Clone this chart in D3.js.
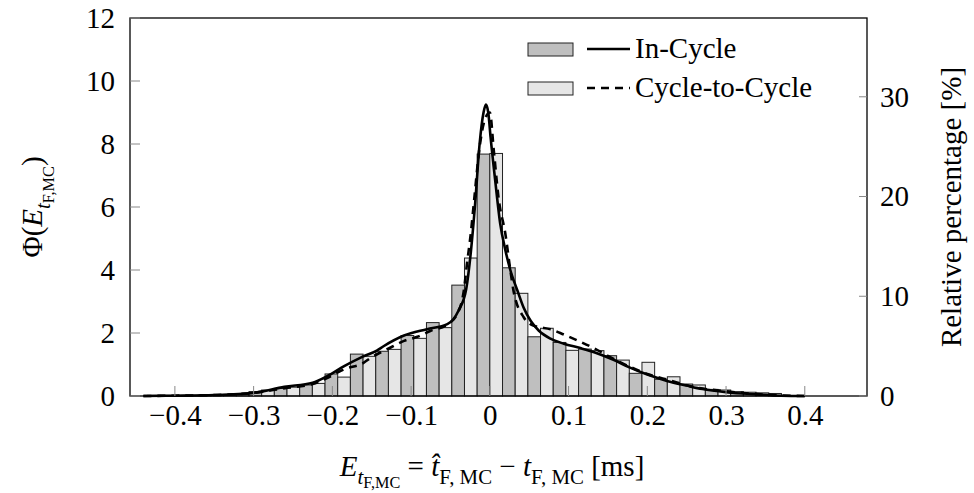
<!DOCTYPE html>
<html>
<head>
<meta charset="utf-8">
<script src="https://cdn.jsdelivr.net/npm/d3@7"></script>
<style>
  html, body { margin: 0; padding: 0; background: #fff; }
  svg { display: block; }
</style>
</head>
<body>
<svg id="chart" width="974" height="493"></svg>
<script>
// Histogram bins (centre of each bin pair, in ms); In-Cycle bar sits left of centre, Cycle-to-Cycle right
const binWidth = 0.0322;
const binCenters = [-0.4186, -0.3864, -0.3542, -0.322, -0.2898, -0.2576, -0.2254, -0.1932, -0.161, -0.1288,
  -0.0966, -0.0644, -0.0322, 0, 0.0322, 0.0644, 0.0966, 0.1288, 0.161, 0.1932, 0.2254, 0.2576, 0.2898,
  0.322, 0.3542];
const inCycleHist = [0.02, 0.02, 0.03, 0.05, 0.14, 0.24, 0.35, 0.70, 1.33, 1.42,
  1.92, 2.33, 3.52, 7.68, 4.07, 1.88, 1.70, 1.49, 1.28, 0.72, 0.53, 0.38, 0.21, 0.14, 0.10];
const cycleToCycleHist = [0.02, 0.02, 0.03, 0.06, 0.19, 0.28, 0.40, 0.60, 1.26, 1.48,
  1.83, 2.17, 4.38, 7.70, 3.26, 2.15, 1.45, 1.44, 1.14, 1.07, 0.61, 0.35, 0.19, 0.12, 0.08];

// Kernel density estimates
const kdeInCycleX = [-0.44, -0.40, -0.35, -0.30, -0.261, -0.225, -0.206, -0.185, -0.164, -0.143, -0.135,
  -0.109, -0.08, -0.054, -0.04, -0.03, -0.024, -0.019, -0.013, -0.008, -0.005, -0.002, 0.001, 0.007,
  0.013, 0.02, 0.026, 0.035, 0.043, 0.052, 0.062, 0.077, 0.094, 0.115, 0.136, 0.157, 0.178, 0.2,
  0.225, 0.25, 0.27, 0.3, 0.34, 0.37, 0.40];
const kdeInCycleY = [0.0, 0.01, 0.03, 0.10, 0.29, 0.42, 0.64, 0.95, 1.22, 1.45, 1.58,
  1.92, 2.12, 2.28, 2.7, 3.4, 4.6, 6.0, 8.0, 9.0, 9.25, 9.0, 8.2, 6.8,
  5.5, 4.6, 4.0, 3.35, 2.8, 2.38, 2.08, 1.82, 1.66, 1.52, 1.36, 1.15, 0.9, 0.68,
  0.48, 0.33, 0.22, 0.12, 0.05, 0.01, 0.0];
const kdeC2CX = [-0.44, -0.40, -0.35, -0.30, -0.26, -0.225, -0.206, -0.185, -0.16, -0.151, -0.139,
  -0.126, -0.109, -0.092, -0.075, -0.054, -0.042, -0.033, -0.029, -0.024, -0.02, -0.013, -0.006, 0.0,
  0.005, 0.011, 0.02, 0.026, 0.03, 0.043, 0.052, 0.06, 0.077, 0.094, 0.115, 0.132, 0.153, 0.175,
  0.2, 0.228, 0.26, 0.3, 0.34, 0.37, 0.40];
const kdeC2CY = [0.0, 0.01, 0.03, 0.10, 0.25, 0.38, 0.58, 0.85, 1.06, 1.22, 1.38,
  1.54, 1.75, 1.88, 2.07, 2.27, 2.58, 3.35, 4.2, 5.2, 6.2, 7.9, 8.8, 9.0,
  7.8, 6.3, 5.1, 4.0, 3.35, 2.5, 2.27, 2.2, 2.12, 1.95, 1.72, 1.52, 1.23, 0.96,
  0.7, 0.5, 0.28, 0.15, 0.06, 0.02, 0.0];

// Tick labels
const xTicks = [-0.4, -0.3, -0.2, -0.1, 0, 0.1, 0.2, 0.3, 0.4];
const yTicks = [0, 2, 4, 6, 8, 10, 12];
const yRightTicks = [0, 10, 20, 30];
const seriesNames = ["In-Cycle", "Cycle-to-Cycle"];

const serif = "'Liberation Serif', 'Tinos', 'Times New Roman', 'Noto Serif', 'DejaVu Serif', serif";

const svg = d3.select("#chart").style("font-family", serif);
const plot = { left: 130, right: 867, top: 18, bottom: 396 };

const x = d3.scaleLinear().domain([-0.457, 0.479]).range([plot.left, plot.right]);
const y = d3.scaleLinear().domain([0, 12]).range([plot.bottom, plot.top]);
const yRight = d3.scaleLinear().domain([0, 37.9]).range([plot.bottom, plot.top]);

const darkFill = "#bfbfbf";
const lightFill = "#e6e6e6";
const fontMain = 29;

// Bars
const bars = svg.append("g");
binCenters.forEach((c, i) => {
  bars.append("rect")
    .attr("x", x(c - binWidth / 2))
    .attr("width", x(c) - x(c - binWidth / 2))
    .attr("y", y(inCycleHist[i]))
    .attr("height", y(0) - y(inCycleHist[i]))
    .attr("fill", darkFill).attr("stroke", "#222").attr("stroke-width", 1);
  bars.append("rect")
    .attr("x", x(c))
    .attr("width", x(c + binWidth / 2) - x(c))
    .attr("y", y(cycleToCycleHist[i]))
    .attr("height", y(0) - y(cycleToCycleHist[i]))
    .attr("fill", lightFill).attr("stroke", "#222").attr("stroke-width", 1);
});

// Density curves
const line = d3.line().x(d => x(d[0])).y(d => y(d[1])).curve(d3.curveMonotoneX);
svg.append("path")
  .datum(kdeInCycleX.map((v, i) => [v, kdeInCycleY[i]]))
  .attr("d", line).attr("fill", "none").attr("stroke", "#000").attr("stroke-width", 2.6);
svg.append("path")
  .datum(kdeC2CX.map((v, i) => [v, kdeC2CY[i]]))
  .attr("d", line).attr("fill", "none").attr("stroke", "#000").attr("stroke-width", 2.6)
  .attr("stroke-dasharray", "8,6");

// Frame
svg.append("rect")
  .attr("x", plot.left).attr("y", plot.top)
  .attr("width", plot.right - plot.left).attr("height", plot.bottom - plot.top)
  .attr("fill", "none").attr("stroke", "#000").attr("stroke-width", 1.3);

// Axes
const tickLen = 10;
const xAxis = d3.axisBottom(x).tickValues(xTicks).tickSize(0).tickPadding(8)
  .tickFormat(d => d === 0 ? "0" : d3.format(".1f")(d).replace("-", "\u2212"));
const gx = svg.append("g").attr("transform", `translate(0,${plot.bottom})`).call(xAxis);
gx.attr("font-family", null).attr("font-size", fontMain);
gx.select(".domain").remove();
gx.selectAll("text").style("font-family", serif);
xTicks.forEach(t => {
  svg.append("line").attr("x1", x(t)).attr("x2", x(t))
    .attr("y1", plot.bottom).attr("y2", plot.bottom - tickLen)
    .attr("stroke", "#888").attr("stroke-width", 1);
});

const yAxis = d3.axisLeft(y).tickValues(yTicks).tickSize(0).tickPadding(15);
const gy = svg.append("g").attr("transform", `translate(${plot.left},0)`).call(yAxis);
gy.attr("font-family", null).attr("font-size", fontMain);
gy.select(".domain").remove();
gy.selectAll("text").style("font-family", serif);
yTicks.forEach(t => {
  svg.append("line").attr("x1", plot.left).attr("x2", plot.left + tickLen)
    .attr("y1", y(t)).attr("y2", y(t))
    .attr("stroke", "#888").attr("stroke-width", 1);
});

const yAxisR = d3.axisRight(yRight).tickValues(yRightTicks).tickSize(0).tickPadding(13);
const gyr = svg.append("g").attr("transform", `translate(${plot.right},0)`).call(yAxisR);
gyr.attr("font-family", null).attr("font-size", fontMain);
gyr.select(".domain").remove();
gyr.selectAll("text").style("font-family", serif);
yRightTicks.forEach(t => {
  svg.append("line").attr("x1", plot.right).attr("x2", plot.right - 8)
    .attr("y1", yRight(t)).attr("y2", yRight(t))
    .attr("stroke", "#888").attr("stroke-width", 1);
});

// Math-style label helper: segments of [text, italic?, level]
function mathLabel(sel, segs, size) {
  const sizes = [size, size * 0.72, size * 0.56];
  const shift = [0, size * 0.26, size * 0.42];
  let level = 0;
  segs.forEach(([txt, ital, lv]) => {
    sel.append("tspan")
      .attr("dy", shift[lv] - shift[level])
      .attr("font-size", sizes[lv])
      .attr("font-style", ital ? "italic" : "normal")
      .text(txt);
    level = lv;
  });
}

// Left axis label
const ly = svg.append("text")
  .attr("transform", `translate(42,${(plot.top + plot.bottom) / 2}) rotate(-90)`)
  .attr("text-anchor", "middle").attr("font-size", fontMain).style("font-family", serif);
mathLabel(ly, [["\u03A6(", false, 0], ["E", true, 0], ["t", true, 1], ["F,MC", false, 2], [")", false, 0]], fontMain);

// Right axis label
svg.append("text")
  .attr("transform", `translate(961,${(plot.top + plot.bottom) / 2}) rotate(-90)`)
  .attr("text-anchor", "middle").attr("font-size", fontMain).style("font-family", serif)
  .text("Relative percentage [%]");

// Bottom axis label
const lx = svg.append("text")
  .attr("x", 492).attr("y", 476)
  .attr("text-anchor", "middle").attr("font-size", fontMain).style("font-family", serif);
mathLabel(lx, [["E", true, 0], ["t", true, 1], ["F,MC", false, 2], [" = ", false, 0],
  ["t\u0302", true, 0], ["F, MC", false, 1], [" \u2212 ", false, 0], ["t", true, 0],
  ["F, MC", false, 1], [" [ms]", false, 0]], fontMain);

// Legend (no border)
const leg = svg.append("g");
const rows = [
  { fill: darkFill, dash: null, name: seriesNames[0], cy: 49 },
  { fill: lightFill, dash: "8,6", name: seriesNames[1], cy: 88 }
];
rows.forEach(r => {
  leg.append("rect").attr("x", 528).attr("y", r.cy - 6).attr("width", 45).attr("height", 13)
    .attr("fill", r.fill).attr("stroke", "#222").attr("stroke-width", 1);
  leg.append("line").attr("x1", 587).attr("x2", 630).attr("y1", r.cy).attr("y2", r.cy)
    .attr("stroke", "#000").attr("stroke-width", 2.6)
    .attr("stroke-dasharray", r.dash);
  leg.append("text").attr("x", 635).attr("y", r.cy + 9).attr("font-size", fontMain)
    .style("font-family", serif).text(r.name);
});
</script>
</body>
</html>
